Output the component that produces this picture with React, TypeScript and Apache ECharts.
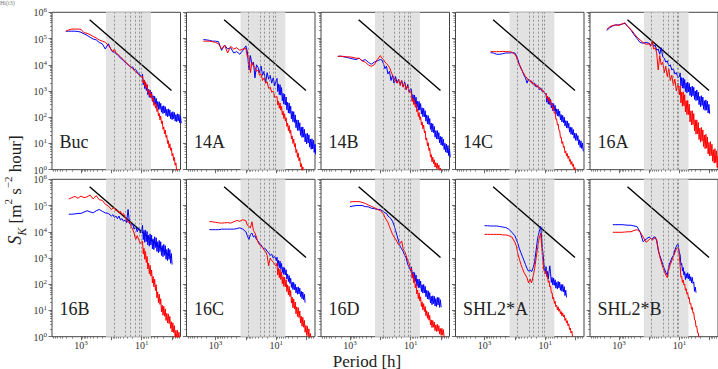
import React, { useEffect, useRef } from "react";
import * as echarts from "echarts";

// ---- sampling grid: log10 of period in hours (coarse at long periods, dense at short ones) ----
const LOG10_PERIOD_H = [
  3.5, 3.4, 3.3, 3.2, 3.1, 3.0, 2.9, 2.8, 2.7, 2.6, 2.5, 2.4, 2.3, 2.2, 2.1,
  2.0, 1.95, 1.9, 1.85, 1.8, 1.75, 1.7, 1.65, 1.6, 1.55, 1.5, 1.45, 1.4, 1.35, 1.3, 1.25, 1.2, 1.15, 1.1, 1.05, 1.0,
  0.975, 0.95, 0.925, 0.9, 0.875, 0.85, 0.825, 0.8, 0.775, 0.75, 0.725, 0.7, 0.675, 0.65, 0.625, 0.6, 0.575, 0.55, 0.525, 0.5,
  0.475, 0.45, 0.425, 0.4, 0.375, 0.35, 0.325, 0.3, 0.275, 0.25, 0.225, 0.2, 0.175, 0.15, 0.125, 0.1, 0.075, 0.05, 0.025, 0,
  -0.025, -0.05, -0.075, -0.1, -0.125, -0.15, -0.175, -0.2, -0.225, -0.25, -0.275, -0.3,
];

const N = null;
// ---- spectra: log10(S_K), aligned with LOG10_PERIOD_H (missing tail = no data) ----
const BUC_RED = [5.28,5.33,5.36,5.36,5.36,5.35,5.22,5.2,5.15,5.08,5.02,4.95,4.9,4.86,4.74,
  4.58,4.5,4.6,4.45,4.42,4.35,4.3,4.25,4.18,4.12,4.08,4.0,3.96,3.9,3.86,3.78,3.74,3.68,3.62,3.56,3.5,
  3.57,3.30,3.42,3.18,3.35,3.12,3.25,2.97,3.05,2.83,2.99,2.75,2.89,2.63,2.74,2.45,2.57,2.35,2.51,2.22,
  2.33,2.05,2.15,1.9,2.04,1.76,1.86,1.54,1.63,1.37,1.51,1.23,1.31,1.0,1.11,0.83,0.99,0.74,0.83,0.53,
  0.62,0.35,0.47,0.17,0.26,-0.07,0.01,-0.26];
const BUC_BLUE = [5.28,5.28,5.28,5.28,5.27,5.24,5.18,5.12,5.05,4.98,4.95,4.85,4.8,4.6,4.8,
  4.55,4.48,4.5,4.42,4.38,4.33,4.25,4.22,4.15,4.1,4.05,4.0,3.95,3.9,3.92,3.8,3.82,3.72,3.68,3.6,3.55,
  3.64,3.24,3.42,3.09,3.34,3.02,3.23,2.86,3.07,2.76,3.04,2.74,2.96,2.6,2.82,2.52,2.8,2.5,2.72,2.37,
  2.6,2.3,2.59,2.3,2.53,2.19,2.42,2.14,2.44,2.16,2.4,2.06,2.3,2.02,2.32,2.04,2.28,1.94,2.18,1.91,
  2.21,1.94,2.18,1.85,2.1,1.83,2.13,1.86,2.11,1.79,2.04,1.77];

const A14_RED = [N,4.9,4.9,4.9,4.88,4.85,4.8,4.6,4.75,4.45,4.7,4.6,4.65,4.55,4.6,
  4.62,4.3,4.35,3.7,4.1,3.95,3.9,3.75,3.8,3.6,3.65,3.4,3.5,3.3,3.35,3.1,3.15,2.95,3.0,2.75,2.78,
  2.79,2.47,2.61,2.34,2.54,2.27,2.41,2.09,2.23,1.95,2.13,1.85,1.98,1.65,1.78,1.49,1.68,1.39,1.51,1.17,
  1.29,1.0,1.17,0.87,1.0,0.65,0.77,0.47,0.64,0.34,0.46,0.11,0.23,-0.07,0.11,-0.18];
const A14_BLUE = [N,4.96,4.95,4.93,4.9,4.9,4.88,4.55,4.75,4.6,4.65,4.45,4.5,4.4,4.55,
  4.72,4.5,3.8,4.35,4.0,4.1,3.5,4.0,3.9,3.7,3.95,3.6,3.75,3.3,3.7,3.45,3.6,3.3,3.5,3.2,3.4,
  3.48,2.98,3.27,2.86,3.24,2.84,3.13,2.63,2.91,2.5,2.88,2.47,2.77,2.28,2.57,2.16,2.54,2.14,2.43,1.94,
  2.23,1.83,2.21,1.8,2.09,1.6,1.9,1.5,1.89,1.49,1.79,1.31,1.62,1.23,1.63,1.24,1.54,1.06,1.37,0.98,
  1.39,1.02,1.33,0.86,1.17,0.78,1.18,0.79,1.12,0.66,0.97,0.58];

const B14_RED = [N,4.32,4.32,4.32,4.3,4.3,4.28,4.25,4.25,4.15,4.1,4.0,3.94,4.0,4.2,
  4.35,4.25,4.2,4.1,4.05,3.98,3.9,3.75,3.6,3.5,3.38,3.3,3.45,3.2,3.4,3.15,3.3,3.05,3.2,2.95,3.0,
  2.9,2.6,2.73,2.48,2.64,2.38,2.51,2.21,2.31,2.03,2.18,1.91,2.02,1.7,1.82,1.56,1.7,1.41,1.48,1.13,
  1.21,0.91,1.03,0.73,0.82,0.48,0.58,0.3,0.48,0.23,0.38,0.1,0.27,0.05,0.25,0.03,0.18,-0.09,0.06,-0.17];
const B14_BLUE = [N,4.32,4.33,4.3,4.28,4.25,4.22,4.2,4.25,4.15,4.2,4.1,4.02,4.1,4.15,
  4.2,4.18,4.05,3.85,3.95,3.65,3.75,3.4,3.6,3.3,3.55,3.3,3.45,3.25,3.4,3.15,3.35,3.05,3.25,2.95,3.1,
  3.03,2.62,2.86,2.52,2.84,2.51,2.76,2.37,2.61,2.27,2.6,2.27,2.52,2.12,2.36,2.02,2.34,2.01,2.25,1.85,
  2.09,1.75,2.06,1.72,1.95,1.54,1.78,1.44,1.75,1.41,1.65,1.24,1.49,1.17,1.49,1.16,1.41,1.02,1.27,0.94,
  1.25,0.91,1.16,0.77,1.01,0.67,0.98,0.64,0.92,0.54,0.79,0.47];

const C14_RED = [N,N,N,N,N,N,N,4.5,4.5,4.5,4.5,4.51,4.5,4.5,4.48,
  4.4,4.3,4.1,4.0,3.9,3.75,3.65,3.55,3.5,3.4,3.42,3.3,3.32,3.2,3.25,3.15,3.15,3.05,3.05,2.95,2.9,
  2.92,2.72,2.81,2.64,2.74,2.55,2.66,2.47,2.51,2.3,2.37,2.15,2.18,1.92,1.94,1.7,1.74,1.5,1.5,1.22,
  1.24,1.0,1.07,0.85,0.89,0.64,0.71,0.52,0.62,0.43,0.52,0.32,0.39,0.2,0.31,0.13,0.21,0.0,0.08,-0.1];
const C14_BLUE = [N,N,N,N,N,N,N,4.46,4.45,4.4,4.4,4.42,4.45,4.45,4.46,
  4.45,4.35,4.2,4.0,3.85,3.75,3.6,3.5,3.3,3.45,3.35,3.38,3.25,3.3,3.15,3.2,3.05,3.12,2.98,3.0,2.88,
  2.91,2.57,2.77,2.5,2.76,2.48,2.68,2.35,2.54,2.25,2.52,2.24,2.45,2.12,2.32,2.05,2.31,2.03,2.23,1.9,
  2.1,1.82,2.07,1.79,2.0,1.67,1.87,1.6,1.86,1.58,1.77,1.43,1.63,1.35,1.61,1.33,1.53,1.2,1.4,1.12,
  1.38,1.11,1.3,0.95,1.14,0.85,1.1,0.81,1.02,0.7];

const A16_RED = [N,5.35,5.45,5.5,5.52,5.5,5.55,5.6,5.45,5.35,5.2,5.05,4.95,4.85,4.78,
  4.8,4.7,4.9,4.6,4.65,4.45,3.8,4.35,4.0,4.1,3.7,3.95,3.55,3.85,3.4,3.6,3.2,3.45,3.0,3.3,2.85,
  3.2,2.55,2.96,2.42,2.97,2.44,2.86,2.2,2.63,2.1,2.64,2.1,2.5,1.82,2.24,1.7,2.25,1.72,2.14,1.48,
  1.9,1.35,1.9,1.37,1.8,1.15,1.58,1.05,1.61,1.09,1.52,0.88,1.32,0.8,1.35,0.82,1.25,0.6,1.04,0.52,
  1.07,0.54,0.97,0.32,0.76,0.25,0.8,0.27,0.72,0.08,0.52,0.0];
const A16_BLUE = [N,5.3,5.42,5.48,5.52,5.52,5.55,5.58,5.45,5.32,5.15,5.0,4.85,4.82,4.85,
  4.82,4.75,4.85,4.7,4.75,4.55,4.6,4.4,4.65,4.3,4.25,4.1,4.15,3.95,4.0,3.8,3.85,3.65,3.7,3.5,3.55,
  3.69,3.2,3.51,3.11,3.5,3.1,3.44,2.98,3.31,2.93,3.34,2.97,3.29,2.83,3.15,2.78,3.19,2.82,3.14,2.68,
  3.0,2.63,3.04,2.65,2.96,2.48,2.79,2.4,2.82,2.45,2.77,2.3,2.63,2.26,2.66,2.27,2.61,2.16,2.49,2.13];

const B16_RED = [N,5.25,5.3,5.35,5.28,5.36,5.3,5.33,5.4,5.25,5.38,5.22,5.2,5.05,4.98,
  4.85,4.9,4.92,4.8,4.82,4.72,4.78,4.65,4.7,4.55,4.5,4.35,4.4,4.2,4.1,3.95,3.7,3.85,3.7,3.55,3.62,
  3.65,3.15,3.37,2.95,3.25,2.83,3.06,2.58,2.81,2.4,2.72,2.31,2.54,2.05,2.3,1.9,2.19,1.76,1.98,1.48,
  1.71,1.3,1.62,1.23,1.45,0.95,1.2,0.82,1.16,0.78,1.06,0.62,0.89,0.52,0.87,0.5,0.77,0.32,0.57,0.18,
  0.53,0.16,0.42,-0.05,0.24,-0.1,0.25,-0.12,0.17,-0.25];
const B16_BLUE = [N,4.67,4.67,4.68,4.7,4.7,4.75,4.8,4.76,4.72,4.8,4.85,4.78,4.72,4.7,
  4.6,4.65,4.55,4.6,4.5,4.6,4.45,4.5,4.4,4.45,4.35,4.85,4.3,4.25,4.3,4.1,4.2,4.0,4.15,3.95,4.05,
  4.25,3.7,4.05,3.6,4.07,3.63,4.01,3.5,3.87,3.45,3.92,3.5,3.87,3.35,3.73,3.32,3.81,3.4,3.77,3.25,
  3.62,3.2,3.67,3.25,3.62,3.1,3.47,3.05,3.52,3.1,3.47,2.95,3.32,2.9,3.37,2.95,3.32,2.8,3.17,2.75];

const C16_RED = [N,N,N,4.39,4.38,4.36,4.34,4.33,4.34,4.35,4.33,4.38,4.43,4.4,4.46,
  4.42,4.25,4.2,4.15,4.38,4.05,3.95,3.8,3.6,3.5,3.45,3.4,3.3,3.25,3.1,2.7,3.0,2.9,2.85,2.75,2.7,
  2.8,2.35,2.62,2.25,2.58,2.18,2.46,2.02,2.29,1.92,2.27,1.9,2.17,1.72,1.98,1.6,1.92,1.53,1.76,1.28,
  1.51,1.1,1.44,1.06,1.32,0.87,1.14,0.77,1.11,0.73,0.98,0.52,0.78,0.4,0.74,0.36,0.62,0.17,0.43,0.05,
  0.4,0.03,0.3,-0.15,0.12,-0.25];
const C16_BLUE = [N,N,N,4.08,4.08,4.08,4.08,4.1,4.1,4.1,4.1,4.1,4.12,4.15,4.1,
  4.0,3.85,3.7,3.9,3.95,3.8,3.85,3.7,3.65,3.55,3.5,3.4,3.35,3.35,3.25,3.2,3.1,3.15,3.0,3.05,2.9,
  3.03,2.7,2.91,2.63,2.88,2.59,2.79,2.45,2.65,2.37,2.63,2.36,2.55,2.2,2.39,2.1,2.33,2.03,2.23,1.88,
  2.08,1.8,2.07,1.79,2.0,1.67,1.89,1.62,1.9,1.63,1.85,1.53,1.73,1.45,1.7,1.41,1.62,1.3];

const D16_RED = [N,N,N,N,N,5.13,5.15,5.15,5.15,5.12,5.08,5.02,4.97,4.92,4.86,
  4.8,4.75,4.68,4.55,4.45,4.35,4.2,4.05,3.9,3.8,3.72,3.62,3.5,3.55,3.65,3.35,3.25,3.1,2.9,2.8,2.55,
  2.6,2.23,2.39,2.05,2.23,1.86,2.01,1.63,1.78,1.45,1.67,1.36,1.52,1.15,1.33,1.02,1.26,0.96,1.15,0.8,
  0.99,0.7,0.93,0.63,0.81,0.45,0.64,0.35,0.62,0.36,0.56,0.23,0.45,0.2,0.47,0.21,0.42,0.1,0.31,0.05,
  0.32,0.06,0.27,-0.05];
const D16_BLUE = [N,N,N,N,N,4.96,4.98,5.0,5.0,5.0,4.96,4.95,4.9,4.88,4.85,
  4.85,4.8,4.78,4.72,4.7,4.6,4.55,4.5,4.4,4.25,4.05,3.85,3.65,3.45,3.35,3.25,3.1,3.0,2.75,2.65,2.5,
  2.66,2.24,2.47,2.12,2.44,2.11,2.35,1.94,2.19,1.87,2.19,1.87,2.12,1.72,1.98,1.66,1.99,1.67,1.92,1.52,
  1.77,1.44,1.75,1.42,1.68,1.29,1.54,1.22,1.56,1.26,1.54,1.17,1.45,1.15,1.5,1.21,1.49,1.12,1.41,1.12];

const SA_RED = [N,N,N,N,N,3.9,3.9,3.9,3.9,3.9,3.9,3.88,3.88,3.85,3.8,
  3.6,3.45,3.15,2.95,2.75,2.6,2.45,2.35,2.25,2.05,2.2,2.05,2.3,2.6,3.0,3.4,3.75,3.95,3.2,2.55,2.4,
  2.5,2.3,2.32,2.07,2.13,1.9,1.93,1.67,1.68,1.44,1.5,1.27,1.35,1.14,1.21,1.02,1.14,0.97,1.06,0.87,
  0.96,0.79,0.91,0.75,0.83,0.62,0.7,0.52,0.61,0.42,0.49,0.27,0.33,0.14,0.21,0.0];
const SA_BLUE = [N,N,N,N,N,4.23,4.23,4.22,4.22,4.22,4.2,4.18,4.16,4.1,3.98,
  3.85,3.7,3.55,3.35,3.2,3.05,2.9,2.75,2.6,2.5,2.55,2.48,2.62,2.85,3.3,3.75,4.0,4.2,3.5,2.85,2.4,
  2.67,2.3,2.49,2.2,2.47,2.7,2.41,2.07,2.26,1.97,2.23,1.96,2.17,1.85,2.07,1.82,2.11,1.86,2.08,1.77,
  1.99,1.73,1.99,1.71,1.91,1.57,1.77,1.5];

const SB_RED = [N,N,N,3.98,3.98,3.98,3.98,3.99,4.0,4.0,4.05,4.08,4.0,3.8,3.6,
  3.7,3.75,3.68,3.72,3.78,3.7,3.35,3.05,2.85,2.65,2.5,2.35,2.25,2.55,2.75,2.9,3.05,3.2,3.35,3.42,3.05,
  2.68,2.27,2.3,2.07,2.16,1.97,2.01,1.77,1.83,1.62,1.68,1.45,1.49,1.24,1.27,1.04,1.12,0.9,0.92,0.64,
  0.63,0.37,0.4,0.15,0.15,-0.13];
const SB_BLUE = [N,N,N,4.27,4.27,4.27,4.27,4.26,4.25,4.25,4.22,4.2,4.0,3.62,3.72,
  3.8,3.75,3.7,3.8,3.8,3.65,3.3,3.1,2.95,2.75,2.6,2.45,2.35,2.7,2.85,3.0,3.1,3.3,3.45,3.55,3.2,
  3.12,2.73,2.8,2.5,2.64,2.35,2.48,2.18,2.4,2.23,2.44,2.21,2.39,2.13,2.29,2.06,2.26,2.03,2.09,1.73,
  1.89,1.68];

const PANEL_NAMES = ["Buc", "14A", "14B", "14C", "16A", "16B", "16C", "16D", "SHL2*A", "SHL2*B"];
const RED_SERIES = [BUC_RED, A14_RED, B14_RED, C14_RED, A16_RED, B16_RED, C16_RED, D16_RED, SA_RED, SB_RED];
const BLUE_SERIES = [BUC_BLUE, A14_BLUE, B14_BLUE, C14_BLUE, A16_BLUE, B16_BLUE, C16_BLUE, D16_BLUE, SA_BLUE, SB_BLUE];

// reference slope line (period h, S_K)
const REF_PERIOD = [520, 1.05];
const REF_S = [5.2e5, 1.05e3];
// shaded band (period h) and dotted reference periods (h)
const BAND_PERIOD = [150, 5];
const MARK_PERIODS = [82, 34, 24, 16.5, 12.2, 10.6];

// axes
const X_MIN = 0.53, X_MAX = 9000, Y_MIN = 1, Y_MAX = 1e6;
const X_MAJOR = [1, 10, 100, 1000];
const X_LABELS = [1000, 10];
const Y_MAJOR = [1, 10, 100, 1e3, 1e4, 1e5, 1e6];

// layout
const COL_LEFT = [52, 186.5, 321, 455.5, 590];
const ROW_TOP = [12.3, 179.3];
const PANEL_W = 128.5, PANEL_H = 157.4;
const FONT = "'Liberation Serif', 'DejaVu Serif', serif";
const TXT = "#333";
const SPINE = "#444";

function minorTicks(lo: number, hi: number) {
  const out: number[] = [];
  for (let d = 0.1; d < hi; d *= 10) {
    for (let k = 2; k <= 9; k++) {
      const v = Math.round(k * d * 1000) / 1000;
      if (v > lo && v < hi) out.push(v);
    }
  }
  return out;
}

const pow10Label = (v: number) => `{a|10}{b|${Math.round(Math.log10(v))}}`;
const TICK_RICH = {
  a: { fontFamily: FONT, fontSize: 10, color: TXT, lineHeight: 11, verticalAlign: "bottom" },
  b: { fontFamily: FONT, fontSize: 7, color: TXT, lineHeight: 5, verticalAlign: "top" },
};

function buildOption() {
  const grid: any[] = [], xAxis: any[] = [], yAxis: any[] = [], series: any[] = [], graphic: any[] = [];
  const xMinor = minorTicks(X_MIN, X_MAX);
  const yMinor = minorTicks(Y_MIN, Y_MAX);
  const toPairs = (arr: (number | null)[]) => {
    const out: number[][] = [];
    arr.forEach((v, i) => { if (v !== null) out.push([Math.pow(10, LOG10_PERIOD_H[i]), Math.pow(10, v)]); });
    return out;
  };
  PANEL_NAMES.forEach((name, g) => {
    const row = Math.floor(g / 5), col = g % 5;
    const left = COL_LEFT[col], top = ROW_TOP[row];
    grid.push({ left, top, width: PANEL_W, height: PANEL_H, show: true, borderColor: SPINE, borderWidth: 1, backgroundColor: "#fff" });
    const xBase = { type: "log", logBase: 10, min: X_MIN, max: X_MAX, inverse: true, gridIndex: g, position: "bottom",
      axisLine: { show: false, onZero: false }, splitLine: { show: false }, silent: true };
    xAxis.push({ ...xBase,
      axisTick: { show: true, length: 3.5, lineStyle: { color: SPINE, width: 0.8 }, customValues: X_MAJOR },
      axisLabel: { show: row === 1, customValues: X_LABELS, formatter: pow10Label, rich: TICK_RICH, margin: 3 } });
    xAxis.push({ ...xBase,
      axisTick: { show: true, length: 2, lineStyle: { color: SPINE, width: 0.6 }, customValues: xMinor },
      axisLabel: { show: false } });
    const yBase = { type: "log", logBase: 10, min: Y_MIN, max: Y_MAX, gridIndex: g, position: "left",
      axisLine: { show: false, onZero: false }, splitLine: { show: false }, silent: true };
    yAxis.push({ ...yBase,
      axisTick: { show: true, length: 3.5, lineStyle: { color: SPINE, width: 0.8 }, customValues: Y_MAJOR },
      axisLabel: { show: col === 0, customValues: Y_MAJOR, formatter: pow10Label, rich: TICK_RICH, margin: 5 } });
    yAxis.push({ ...yBase,
      axisTick: { show: true, length: 2, lineStyle: { color: SPINE, width: 0.6 }, customValues: yMinor },
      axisLabel: { show: false } });

    const ax = { xAxisIndex: 2 * g, yAxisIndex: 2 * g };
    series.push({ ...ax, type: "line", data: [], z: 1, silent: true,
      markArea: { silent: true, itemStyle: { color: "#e2e2e2", opacity: 1 },
        data: [[{ xAxis: BAND_PERIOD[0] }, { xAxis: BAND_PERIOD[1] }]] },
      markLine: { silent: true, symbol: ["none", "none"], label: { show: false },
        lineStyle: { color: "#7d7d7d", type: [2, 2], width: 0.8 },
        data: MARK_PERIODS.map((p) => ({ xAxis: p })) } });
    series.push({ ...ax, type: "line", z: 2, silent: true, symbol: "none", showSymbol: false,
      lineStyle: { color: "#000", width: 1.4 },
      data: REF_PERIOD.map((p, i) => [p, REF_S[i]]) });
    series.push({ ...ax, type: "line", z: 3, silent: true, symbol: "none", showSymbol: false, clip: true,
      lineStyle: { color: "#0000ff", width: 1 }, data: toPairs(BLUE_SERIES[g]) });
    series.push({ ...ax, type: "line", z: 4, silent: true, symbol: "none", showSymbol: false, clip: true,
      lineStyle: { color: "#ff0000", width: 1 }, data: toPairs(RED_SERIES[g]) });

    graphic.push({ type: "text", x: left + 7.5, y: top + PANEL_H - 28, z: 10, silent: true,
      style: { text: name, fontFamily: FONT, fontSize: 18, fill: "#222", align: "left", verticalAlign: "middle" } });
  });

  graphic.push({ type: "text", x: 15, y: 190, rotation: Math.PI / 2, silent: true,
    style: {
      text: "{it|S}{sub|K}{n| [m}{sup|2}{n| s}{sup|−2}{n| hour]}",
      align: "center", verticalAlign: "middle",
      rich: {
        it: { fontFamily: FONT, fontSize: 18, fontStyle: "italic", fill: "#222", color: "#222", lineHeight: 26, verticalAlign: "middle" },
        sub: { fontFamily: FONT, fontSize: 12, fontStyle: "italic", fill: "#222", color: "#222", lineHeight: 18, verticalAlign: "bottom" },
        n: { fontFamily: FONT, fontSize: 17, fill: "#222", color: "#222", lineHeight: 26, verticalAlign: "middle" },
        sup: { fontFamily: FONT, fontSize: 11, fill: "#222", color: "#222", lineHeight: 16, verticalAlign: "top" },
      },
    } });
  graphic.push({ type: "text", x: 367, y: 361, silent: true,
    style: { text: "Period [h]", fontFamily: FONT, fontSize: 17, lineHeight: 15, fill: "#222", align: "center", verticalAlign: "middle" } });
  graphic.push({ type: "text", x: 0, y: 0, silent: true,
    style: { text: "Hi(t3)", fontFamily: FONT, fontSize: 6, fill: "#777", align: "left", verticalAlign: "top" } });

  return { animation: false, backgroundColor: "#fff", grid, xAxis, yAxis, series, graphic };
}

export default function App() {
  const ref = useRef<HTMLDivElement>(null);
  useEffect(() => {
    document.body.style.margin = "0";
    if (!ref.current) return;
    const chart = echarts.init(ref.current, undefined, { renderer: "svg" });
    chart.setOption(buildOption() as any);
    return () => chart.dispose();
  }, []);
  return <div ref={ref} style={{ width: 718, height: 369 }} />;
}
